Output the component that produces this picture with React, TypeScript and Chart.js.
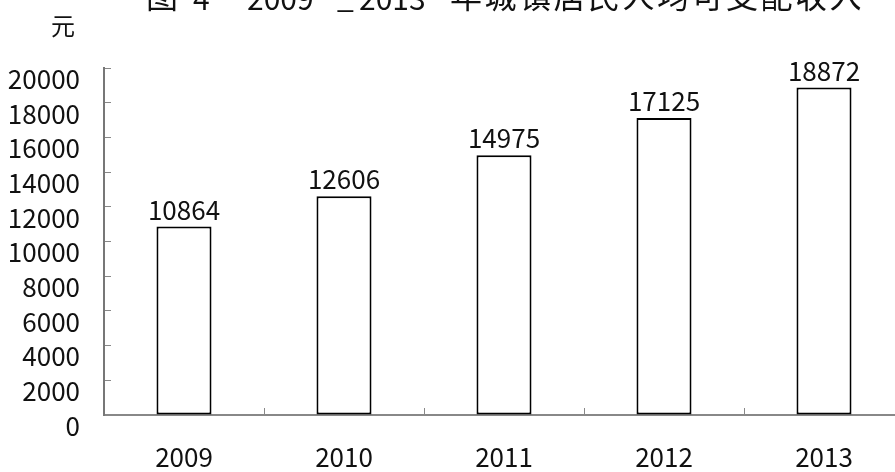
import React, { useEffect, useRef } from 'react';
import { Chart, registerables } from 'chart.js';

Chart.register(...registerables);

const years: string[] = ['2009', '2010', '2011', '2012', '2013'];
const income: number[] = [10864, 12606, 14975, 17125, 18872];
const yMin = 0;
const yMax = 20000;
const yStep = 2000;
const unitLabel = '元';
const titleNumber = ['图', '4'];
const titleYears = ['2009', '_', '2013'];
const titleText = '年城镇居民人均可支配收入';

const CJK = '"Noto Sans CJK SC", sans-serif';

const annotatePlugin = {
  id: 'annotate',
  afterDatasetsDraw(chart: any) {
    const ctx = chart.ctx as CanvasRenderingContext2D;
    const meta = chart.getDatasetMeta(0);
    ctx.save();
    ctx.fillStyle = '#111';
    ctx.font = `26px ${CJK}`;
    ctx.textAlign = 'center';
    ctx.textBaseline = 'alphabetic';
    meta.data.forEach((bar: any, i: number) => {
      ctx.fillText(String(income[i]), bar.x, bar.y - 7);
    });
    ctx.restore();
  },
  afterDraw(chart: any) {
    const ctx = chart.ctx as CanvasRenderingContext2D;
    ctx.save();
    ctx.fillStyle = '#111';
    ctx.textAlign = 'left';
    ctx.textBaseline = 'alphabetic';
    // unit
    ctx.font = `24px ${CJK}`;
    ctx.fillText(unitLabel, 51, 35);
    // title (cut off at top like the reference)
    ctx.font = `32px ${CJK}`;
    ctx.fillText(titleNumber[0], 146, 8);
    ctx.font = `30px ${CJK}`;
    ctx.fillText(titleNumber[1], 193, 10);
    ctx.fillText(titleYears[0], 247, 10);
    ctx.fillText(titleYears[1], 337, 8);
    ctx.fillText(titleYears[2], 359, 10);
    ctx.font = `32px ${CJK}`;
    (ctx as any).letterSpacing = '2.5px';
    ctx.fillText(titleText, 450, 8);
    ctx.restore();
  },
};

export default function App() {
  const ref = useRef<HTMLCanvasElement | null>(null);

  useEffect(() => {
    if (!ref.current) return;
    const chart = new Chart(ref.current, {
      type: 'bar',
      data: {
        labels: years,
        datasets: [
          {
            data: income,
            backgroundColor: '#ffffff',
            borderColor: '#000000',
            borderWidth: 2,
            borderSkipped: false,
            barPercentage: 0.344,
            categoryPercentage: 1,
          },
        ],
      },
      options: {
        responsive: false,
        animation: false,
        devicePixelRatio: 1,
        layout: { padding: { top: 68, left: 0, right: 6, bottom: 0 } },
        plugins: {
          legend: { display: false },
          tooltip: { enabled: false },
          title: { display: false },
        },
        scales: {
          x: {
            offset: true,
            grid: {
              offset: true,
              drawOnChartArea: false,
              drawTicks: true,
              tickLength: -7,
              color: '#888',
              lineWidth: 1,
            },
            border: { display: true, color: '#888', width: 2 },
            ticks: {
              padding: 34,
              color: '#111',
              font: { family: CJK, size: 26 },
              autoSkip: false,
              maxRotation: 0,
            },
            afterFit(scale: any) {
              scale.height = 57;
            },
          },
          y: {
            min: yMin,
            max: yMax,
            grid: {
              drawOnChartArea: false,
              drawTicks: true,
              tickLength: -7,
              color: '#888',
              lineWidth: 1,
            },
            border: { display: true, color: '#777', width: 2 },
            ticks: {
              stepSize: yStep,
              padding: 31,
              labelOffset: 11,
              color: '#111',
              font: { family: CJK, size: 26 },
              autoSkip: false,
              callback: (v: any) => String(v),
            },
            afterFit(scale: any) {
              scale.width = 104;
            },
          },
        },
      },
      plugins: [annotatePlugin],
    });
    return () => chart.destroy();
  }, []);

  return (
    <div
      style={{
        position: 'fixed',
        left: 0,
        top: 0,
        width: 895,
        height: 472,
        overflow: 'hidden',
        background: '#fff',
      }}
    >
      <canvas ref={ref} width={910} height={472} style={{ display: 'block' }} />
    </div>
  );
}
